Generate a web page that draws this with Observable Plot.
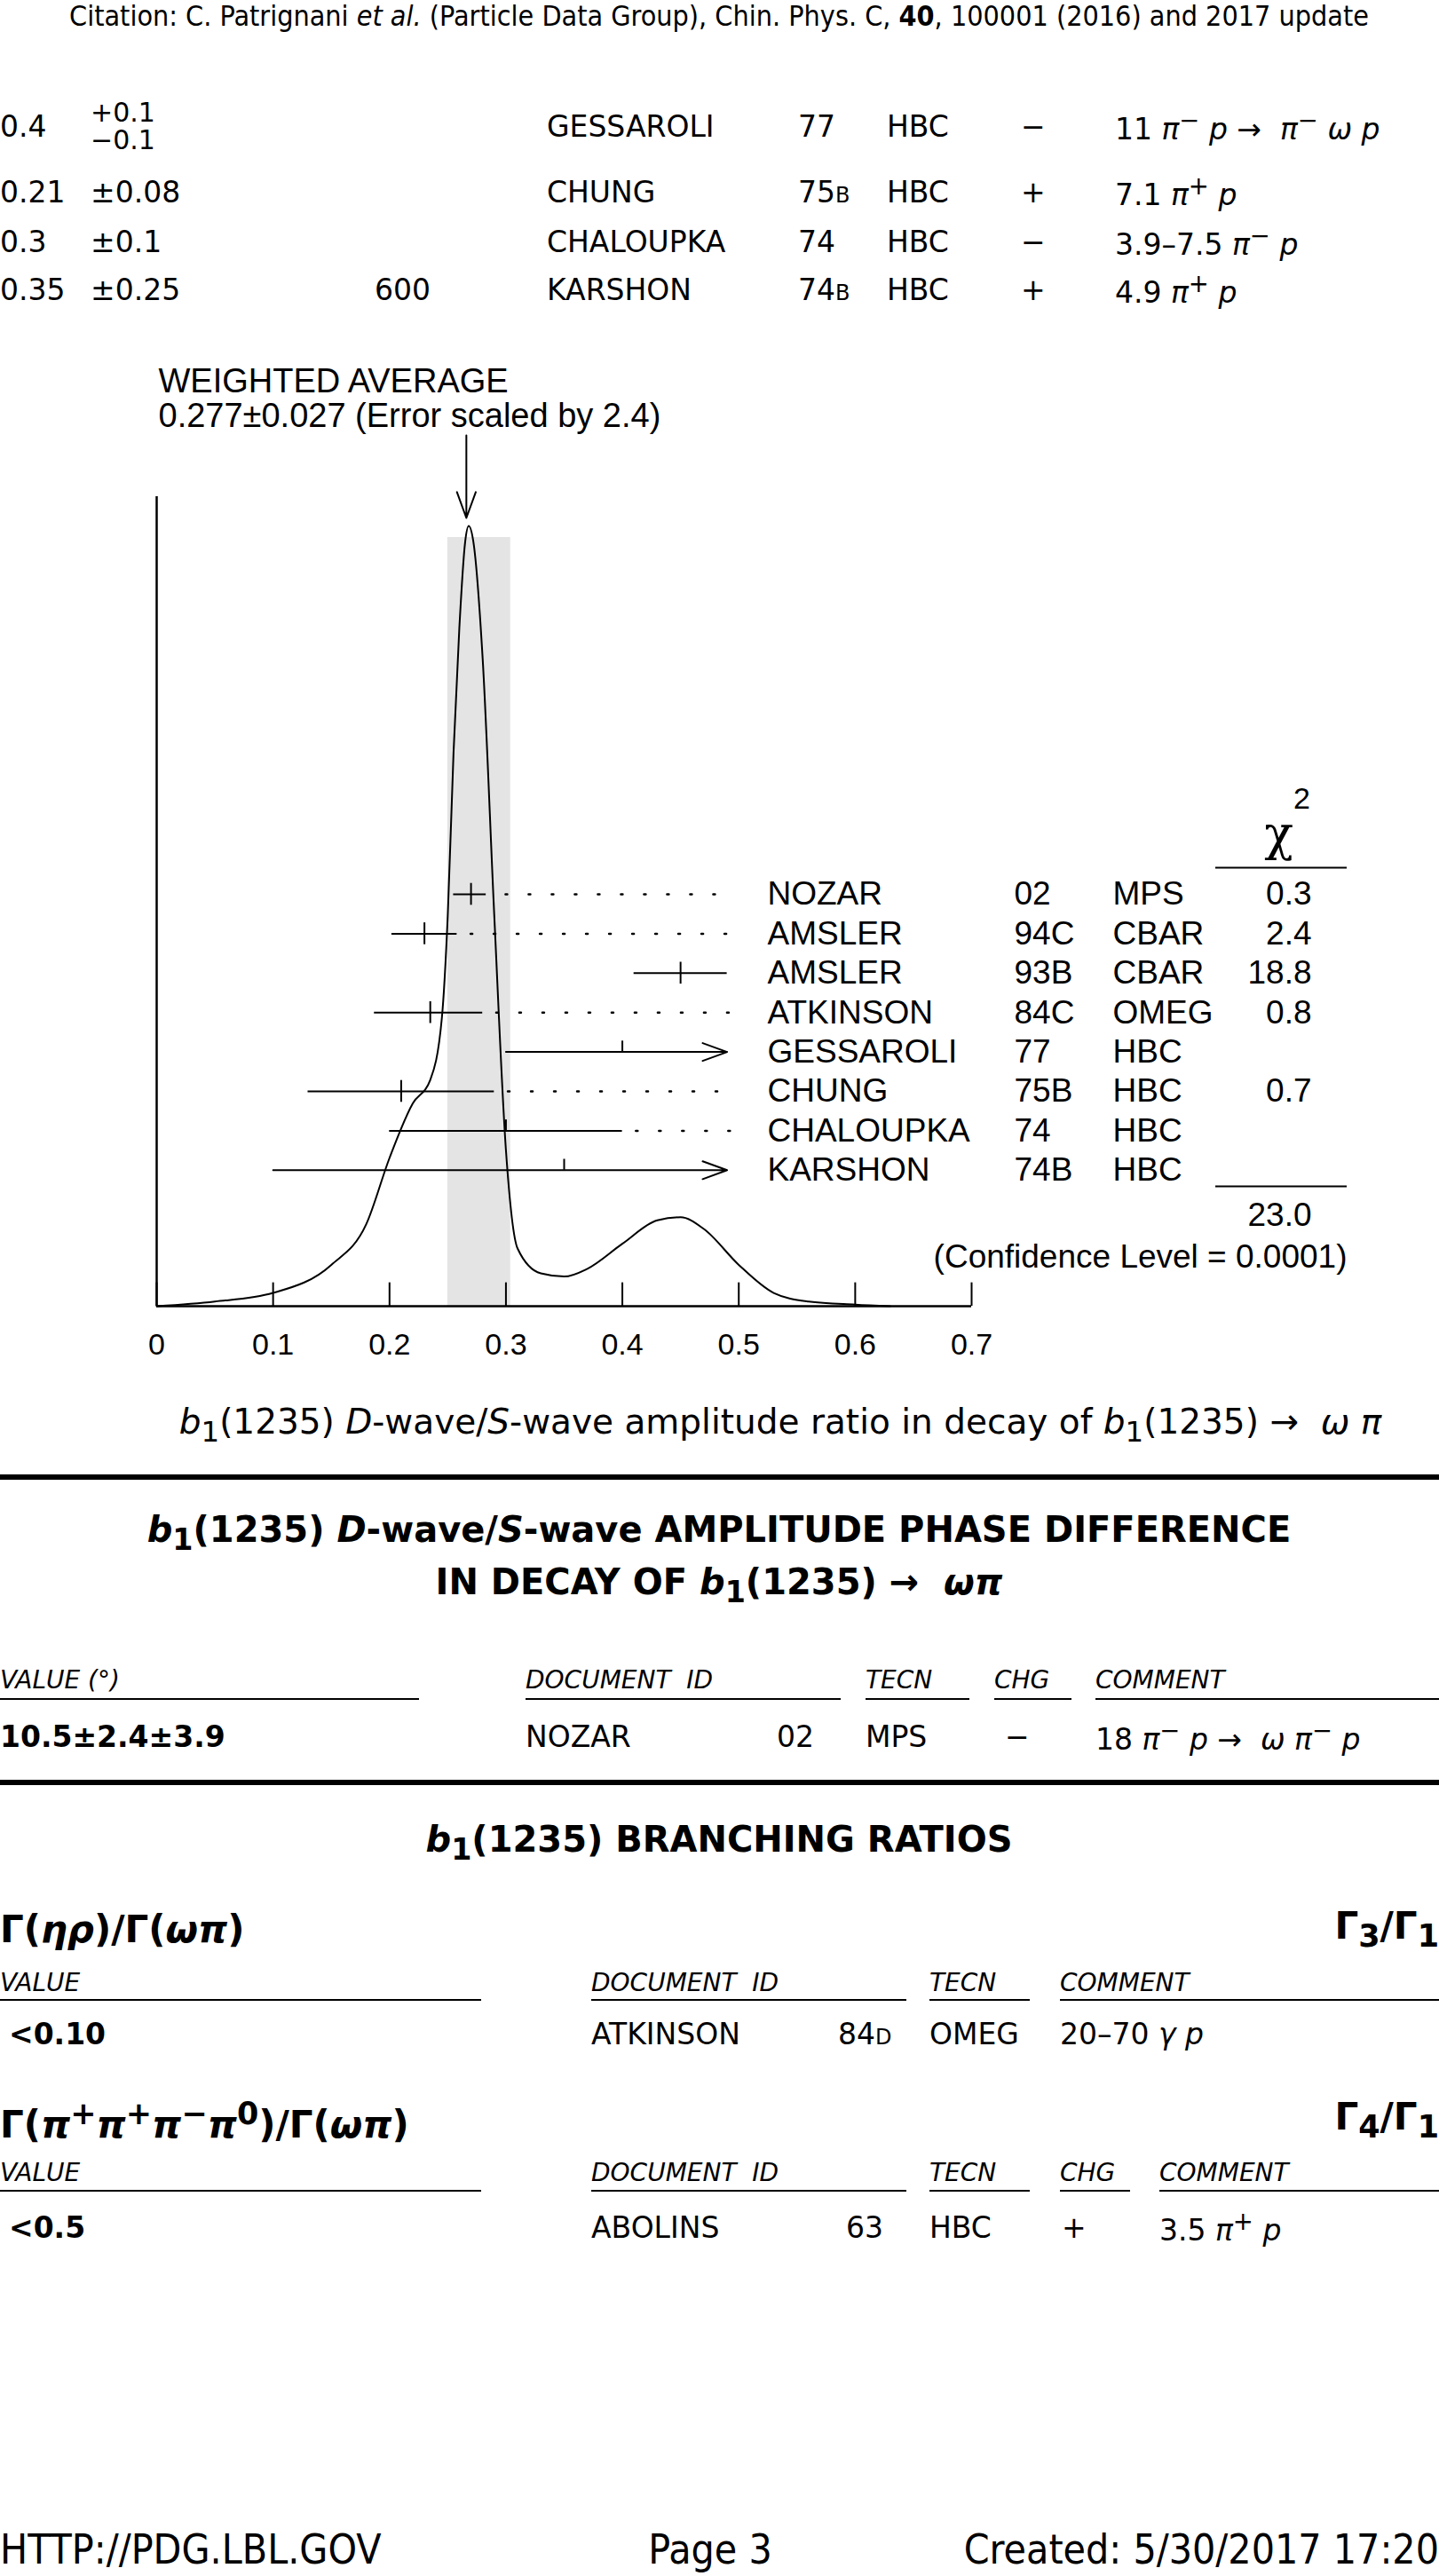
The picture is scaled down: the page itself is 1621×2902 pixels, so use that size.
<!DOCTYPE html>
<html><head><meta charset="utf-8">
<script src="https://cdn.jsdelivr.net/npm/d3@7"></script>
<script src="https://cdn.jsdelivr.net/npm/@observablehq/plot@0.6"></script>
<style>
body{margin:0;background:#fff;width:1621px;height:2902px;position:relative;overflow:hidden;font-family:"DejaVu Sans",sans-serif;color:#000}
.t{position:absolute;white-space:nowrap;transform:translateY(-50%);font-size:33px;line-height:1}
.r{transform:translate(-100%,-50%)}
.c{transform:translate(-50%,-50%)}
.u{position:absolute;height:2px;background:#000}
.hd{font-style:italic;font-size:28px}
.b{font-weight:bold}
i{font-style:italic}
#chart{position:absolute;left:0;top:380px}
</style></head><body>
<div id="chart"></div>
<script>
// measurements data
const rowNames = ["NOZAR","AMSLER","AMSLER","ATKINSON","GESSAROLI","CHUNG","CHALOUPKA","KARSHON"];
const rowYears = ["02","94C","93B","84C","77","75B","74","74B"];
const rowTecn = ["MPS","CBAR","CBAR","OMEG","HBC","HBC","HBC","HBC"];
const rowChi2 = ["0.3","2.4","18.8","0.8","","0.7","",""];
const rowValue = [0.27, 0.23, 0.45, 0.235, 0.4, 0.21, 0.3, 0.35];
const rowLo = [0.255, 0.202, 0.41, 0.187, 0.3, 0.13, 0.2, 0.1];
const rowHi = [0.283, 0.258, 0.49, 0.28, 0.49, 0.29, 0.4, 0.49];
const rowArrow = [false,false,false,false,true,false,false,true];
const rowCross = [true,true,true,true,false,true,false,false];

// ideogram curve
const curveX = [0,0.05,0.1,0.15,0.18,0.2,0.22,0.235,0.245,0.25,0.255,0.26,0.265,0.268,0.272,0.28,0.29,0.3,0.31,0.33,0.35,0.37,0.4,0.43,0.45,0.47,0.5,0.53,0.56,0.6,0.63];
const curveH = [0,0.006,0.017,0.053,0.105,0.19,0.26,0.29,0.37,0.5,0.71,0.87,0.98,1.0,0.98,0.83,0.5,0.2,0.074,0.042,0.038,0.048,0.08,0.11,0.114,0.099,0.053,0.017,0.006,0.002,0];
const avgValue = 0.277, avgLo = 0.25, avgHi = 0.304;
const xTicks = [0,0.1,0.2,0.3,0.4,0.5,0.6,0.7];

const W = 1621, H = 1260, ml = 176, mr = W - 1094, mt = 212, mb = H - 1091;
const yPix = p => (1091 - (p - 380)) / (1091 - 212); // page px -> y value
const xPix = p => (p - 176) / (918 / 0.7);
const rowY = i => yPix(1007 + i * 44.4);

const curve = curveX.map((x, i) => ({x, y: curveH[i]}));
const rows = rowNames.map((n, i) => ({i, n, year: rowYears[i], tecn: rowTecn[i], chi: rowChi2[i],
  v: rowValue[i], lo: rowLo[i], hi: rowHi[i], arrow: rowArrow[i], cross: rowCross[i], y: rowY(i)}));
const dots = rows.filter(d => d.hi < 0.48).map(d => ({x1: Math.max(d.hi + 0.012, d.i === 0 ? 0.3 : 0), x2: 0.497, y: d.y}));
const font = "Liberation Sans, Arial, sans-serif";
const tick = 0.014;
const fs = 37;

const plot = Plot.plot({
  width: W, height: H, marginLeft: ml, marginRight: mr, marginTop: mt, marginBottom: mb,
  x: {domain: [0, 0.7], ticks: xTicks, tickFormat: d => d === 0 ? "0" : d3.format(".1f")(d)},
  y: {domain: [0, 1], axis: null},
  style: {fontFamily: font, fontSize: "33px", overflow: "visible"},
  marks: [
    Plot.rectY([{x1: avgLo, x2: avgHi}], {x1: "x1", x2: "x2", y1: 0, y2: yPix(605), fill: "#e4e4e4"}),
    Plot.axisX({ticks: xTicks, tickSize: 0, tickPadding: 30, fontSize: 34, tickFormat: d => d === 0 ? "0" : d3.format(".1f")(d)}),
    Plot.ruleX(xTicks, {y1: 0, y2: 0.03, stroke: "#000", strokeWidth: 2}),
    Plot.ruleY([0], {x1: 0, x2: 0.7, stroke: "#000", strokeWidth: 2.5}),
    Plot.ruleX([0], {y1: 0, y2: yPix(559), stroke: "#000", strokeWidth: 2.5}),
    Plot.line(curve, {x: "x", y: "y", curve: "monotone-x", stroke: "#000", strokeWidth: 2}),
    Plot.ruleY(rows.filter(d => !d.arrow), {x1: "lo", x2: "hi", y: "y", stroke: "#000", strokeWidth: 2}),
    Plot.arrow(rows.filter(d => d.arrow), {x1: "lo", x2: "hi", y1: "y", y2: "y", stroke: "#000", strokeWidth: 2, headLength: 22, headAngle: 40}),
    Plot.ruleX(rows.filter(d => d.cross), {x: "v", y1: d => d.y - tick, y2: d => d.y + tick, stroke: "#000", strokeWidth: 2}),
    Plot.ruleX(rows.filter(d => !d.cross), {x: "v", y1: d => d.y, y2: d => d.y + tick, stroke: "#000", strokeWidth: 2}),
    Plot.ruleY(dots, {x1: "x1", x2: "x2", y: "y", stroke: "#000", strokeWidth: 2.5, strokeDasharray: "2,24", strokeLinecap: "round"}),
    Plot.text(rows, {x: xPix(864), y: "y", text: "n", textAnchor: "start", fontSize: fs}),
    Plot.text(rows, {x: xPix(1142), y: "y", text: "year", textAnchor: "start", fontSize: fs}),
    Plot.text(rows, {x: xPix(1253), y: "y", text: "tecn", textAnchor: "start", fontSize: fs}),
    Plot.text(rows, {x: xPix(1477), y: "y", text: "chi", textAnchor: "end", fontSize: fs}),
    Plot.text(["χ"], {x: xPix(1440), y: yPix(940), text: d => d, fontSize: 54, fontFamily: "DejaVu Serif"}),
    Plot.text(["2"], {x: xPix(1466), y: yPix(900), text: d => d, fontSize: 34}),
    Plot.ruleY([yPix(977), yPix(1336)], {x1: xPix(1369), x2: xPix(1517), stroke: "#000", strokeWidth: 2}),
    Plot.text(["23.0"], {x: xPix(1477), y: yPix(1369), text: d => d, textAnchor: "end", fontSize: fs}),
    Plot.text(["(Confidence Level = 0.0001)"], {x: xPix(1517), y: yPix(1416), text: d => d, textAnchor: "end", fontSize: fs}),
    Plot.text(["WEIGHTED AVERAGE"], {x: xPix(178), y: yPix(429), text: d => d, textAnchor: "start", fontSize: 38}),
    Plot.text(["0.277±0.027 (Error scaled by 2.4)"], {x: xPix(178), y: yPix(468), text: d => d, textAnchor: "start", fontSize: 38}),
    Plot.arrow([avgValue], {x1: d => d - 0.011, x2: d => d - 0.011, y1: yPix(490), y2: yPix(583), stroke: "#000", strokeWidth: 2, headLength: 24, headAngle: 40})
  ]
});
document.getElementById("chart").append(plot);

// page text
function t(x, y, html, cls = "", style = "") {
  const d = document.createElement("div");
  d.className = "t " + cls; d.style.left = x + "px"; d.style.top = y + "px";
  if (style) d.style.cssText += style;
  d.innerHTML = html; document.body.append(d);
}
function u(x1, x2, y, h = 2) {
  const d = document.createElement("div");
  d.className = "u"; d.style.left = x1 + "px"; d.style.width = (x2 - x1) + "px"; d.style.top = y + "px"; d.style.height = h + "px";
  document.body.append(d);
}
const cond = "font-family:'DejaVu Sans Condensed','DejaVu Sans';font-size:32px;";
t(810, 18, "Citation: C. Patrignani <i>et al.</i> (Particle Data Group), Chin. Phys. C, <b>40</b>, 100001 (2016) and 2017 update", "c", cond);

const topVal = ["0.4", "0.21", "0.3", "0.35"];
const topErr = ["", "±0.08", "±0.1", "±0.25"];
const topEvts = ["", "", "", "600"];
const topName = ["GESSAROLI", "CHUNG", "CHALOUPKA", "KARSHON"];
const topYear = ["77", "75<span style='font-size:24px'>B</span>", "74", "74<span style='font-size:24px'>B</span>"];
const topChg = ["−", "+", "−", "+"];
const topCom = ["11 <i>π</i><sup>−</sup> <i>p</i> → &nbsp;<i>π</i><sup>−</sup> <i>ω p</i>", "7.1 <i>π</i><sup>+</sup> <i>p</i>", "3.9–7.5 <i>π</i><sup>−</sup> <i>p</i>", "4.9 <i>π</i><sup>+</sup> <i>p</i>"];
const topY = [142, 216, 272, 326];
topY.forEach((y, i) => {
  t(0, y, topVal[i]); t(102, y, topErr[i]); t(422, y, topEvts[i]); t(616, y, topName[i]);
  t(899, y, topYear[i]); t(999, y, "HBC"); t(1150, y, topChg[i]); t(1256, y, topCom[i]);
});
t(102, 127, "+0.1", "", "font-size:30px"); t(102, 158, "−0.1", "", "font-size:30px");

t(879, 1606, "<i>b</i><sub>1</sub>(1235) <i>D</i>-wave/<i>S</i>-wave amplitude ratio in decay of <i>b</i><sub>1</sub>(1235) → &nbsp;<i>ω π</i>", "c", "font-size:39px");
u(0, 1621, 1661, 6);
t(810, 1727, "<i>b</i><sub>1</sub>(1235) <i>D</i>-wave/<i>S</i>-wave AMPLITUDE PHASE DIFFERENCE", "c b", "font-size:40px");
t(810, 1786, "IN DECAY OF <i>b</i><sub>1</sub>(1235) → &nbsp;<i>ωπ</i>", "c b", "font-size:40px");
t(0, 1893, "VALUE (°)", "hd"); t(592, 1893, "DOCUMENT &nbsp;ID", "hd"); t(975, 1893, "TECN", "hd"); t(1120, 1893, "CHG", "hd"); t(1234, 1893, "COMMENT", "hd");
u(0, 472, 1913); u(592, 947, 1913); u(975, 1092, 1913); u(1120, 1207, 1913); u(1234, 1621, 1913);
t(0, 1956, "10.5±2.4±3.9", "b"); t(592, 1956, "NOZAR"); t(875, 1956, "02"); t(975, 1956, "MPS"); t(1132, 1956, "−");
t(1234, 1956, "18 <i>π</i><sup>−</sup> <i>p</i> → &nbsp;<i>ω π</i><sup>−</sup> <i>p</i>");
u(0, 1621, 2005, 6);
t(810, 2076, "<i>b</i><sub>1</sub>(1235) BRANCHING RATIOS", "c b", "font-size:40px");

t(0, 2174, "Γ(<i>ηρ</i>)/Γ(<i>ωπ</i>)", "b", "font-size:42px");
t(1621, 2174, "Γ<sub>3</sub>/Γ<sub>1</sub>", "r b", "font-size:42px");
t(0, 2234, "VALUE", "hd"); t(666, 2234, "DOCUMENT &nbsp;ID", "hd"); t(1047, 2234, "TECN", "hd"); t(1194, 2234, "COMMENT", "hd");
u(0, 542, 2252); u(666, 1021, 2252); u(1047, 1160, 2252); u(1194, 1621, 2252);
t(10, 2291, "&lt;0.10", "b"); t(666, 2291, "ATKINSON"); t(944, 2291, "84<span style='font-size:24px'>D</span>"); t(1047, 2291, "OMEG"); t(1194, 2291, "20–70 <i>γ p</i>");

t(0, 2389, "Γ(<i>π</i><sup>+</sup><i>π</i><sup>+</sup><i>π</i><sup>−</sup><i>π</i><sup>0</sup>)/Γ(<i>ωπ</i>)", "b", "font-size:42px");
t(1621, 2389, "Γ<sub>4</sub>/Γ<sub>1</sub>", "r b", "font-size:42px");
t(0, 2448, "VALUE", "hd"); t(666, 2448, "DOCUMENT &nbsp;ID", "hd"); t(1047, 2448, "TECN", "hd"); t(1194, 2448, "CHG", "hd"); t(1306, 2448, "COMMENT", "hd");
u(0, 542, 2467); u(666, 1021, 2467); u(1047, 1160, 2467); u(1194, 1273, 2467); u(1306, 1621, 2467);
t(10, 2509, "&lt;0.5", "b"); t(666, 2509, "ABOLINS"); t(953, 2509, "63"); t(1047, 2509, "HBC"); t(1196, 2509, "+"); t(1306, 2509, "3.5 <i>π</i><sup>+</sup> <i>p</i>");

const foot = "font-family:'DejaVu Sans Condensed','DejaVu Sans';font-size:46px;";
t(0, 2872, "HTTP://PDG.LBL.GOV", "", foot);
t(800, 2872, "Page 3", "c", foot);
t(1621, 2872, "Created: 5/30/2017 17:20", "r", foot);
</script>
</body></html>
